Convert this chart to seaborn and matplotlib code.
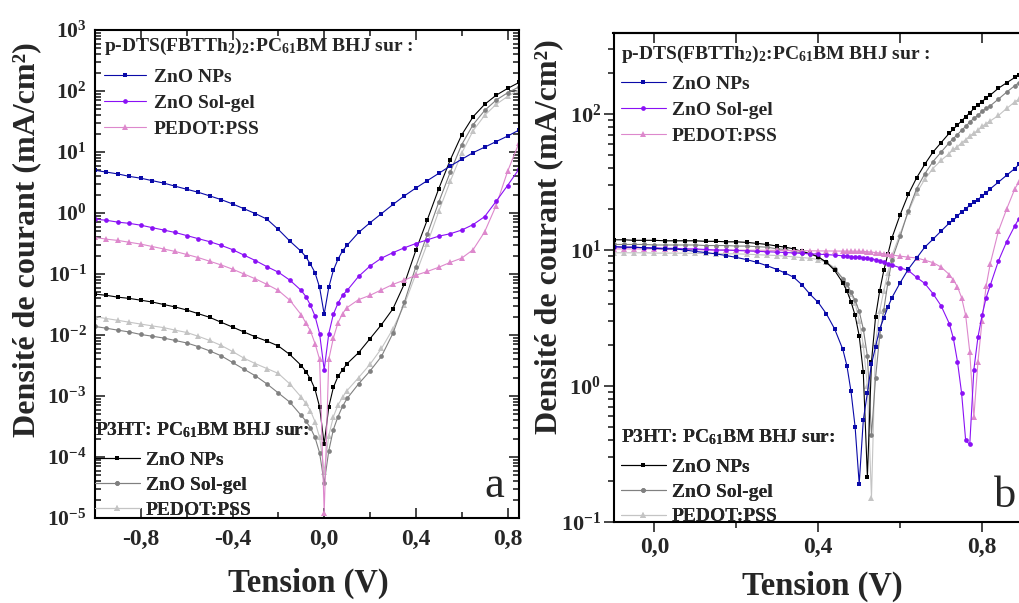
import numpy as np
import matplotlib
matplotlib.use("Agg")
import matplotlib.pyplot as plt
import seaborn as sns
from matplotlib.lines import Line2D
from matplotlib.ticker import MultipleLocator, FuncFormatter, LogLocator, NullFormatter

# ---------------- data: panel a (J in mA/cm2 vs V) ----------------
volt_a = [-1.0, -0.95, -0.9, -0.85, -0.8, -0.75, -0.7, -0.65, -0.6, -0.55, -0.5, -0.45,
          -0.4, -0.35, -0.3, -0.25, -0.2, -0.15, -0.1, -0.08, -0.06, -0.04, -0.02, 0.0,
          0.02, 0.04, 0.06, 0.08, 0.1, 0.15, 0.2, 0.25, 0.3, 0.35, 0.4, 0.45, 0.5, 0.55,
          0.6, 0.65, 0.7, 0.75, 0.8, 0.85]

a_dts_zno_nps = [5.01, 4.68, 4.37, 3.98, 3.72, 3.39, 3.09, 2.75, 2.45, 2.19, 1.91, 1.66,
                 1.41, 1.175, 0.977, 0.794, 0.537, 0.347, 0.234, 0.191, 0.145, 0.105, 0.0603, 0.0219,
                 0.0603, 0.115, 0.174, 0.240, 0.295, 0.479, 0.692, 0.977, 1.38, 1.91, 2.57, 3.39,
                 4.47, 5.89, 7.59, 9.77, 12.0, 14.8, 18.2, 22.9]
a_dts_zno_solgel = [0.794, 0.759, 0.708, 0.676, 0.631, 0.575, 0.525, 0.479, 0.427, 0.380, 0.339, 0.295,
                    0.251, 0.204, 0.166, 0.132, 0.107, 0.0794, 0.0537, 0.0427, 0.0309, 0.0204, 0.0105, 0.00269,
                    0.0105, 0.0219, 0.0331, 0.0447, 0.0537, 0.0912, 0.135, 0.182, 0.224, 0.269, 0.316, 0.363,
                    0.417, 0.457, 0.525, 0.646, 0.871, 1.55, 2.82, 5.25]
a_dts_pedot = [0.398, 0.372, 0.355, 0.331, 0.309, 0.282, 0.257, 0.234, 0.209, 0.186, 0.162, 0.141,
               0.120, 0.100, 0.0832, 0.0676, 0.0537, 0.0372, 0.0214, 0.0158, 0.0117, 0.00724, 0.00398, 1.23e-5,
               0.00398, 0.00891, 0.0158, 0.0224, 0.0282, 0.0380, 0.0447, 0.0550, 0.0676, 0.0794, 0.0955, 0.110,
               0.129, 0.155, 0.182, 0.251, 0.490, 1.32, 4.79, 14.1]
a_p3ht_zno_nps = [0.0468, 0.0447, 0.0417, 0.0398, 0.0372, 0.0347, 0.0316, 0.0288, 0.0257, 0.0224, 0.0195, 0.0162,
                  0.0135, 0.0112, 0.00933, 0.00794, 0.00661, 0.00479, 0.00316, 0.00251, 0.00191, 0.00129, 0.000661, 0.000162,
                  0.000661, 0.00138, 0.00209, 0.00269, 0.00339, 0.00513, 0.00871, 0.0148, 0.0269, 0.0692, 0.245, 0.776,
                  2.51, 7.41, 19.1, 38.0, 60.3, 85.1, 110, 138]
a_p3ht_zno_solgel = [0.0138, 0.0129, 0.0120, 0.0112, 0.0102, 0.00955, 0.00891, 0.00813, 0.00741, 0.00646, 0.00550, 0.00457,
                     0.00355, 0.00275, 0.00214, 0.00158, 0.00112, 0.000794, 0.000479, 0.000389, 0.000302, 0.000209, 0.000117, 3.72e-5,
                     0.000126, 0.000282, 0.000457, 0.000676, 0.000912, 0.00158, 0.00257, 0.00447, 0.0107, 0.0347, 0.132, 0.447,
                     1.51, 4.68, 13.2, 28.2, 47.9, 70.8, 93.3, 117]
a_p3ht_pedot = [0.0200, 0.0186, 0.0174, 0.0162, 0.0151, 0.0141, 0.0132, 0.0120, 0.0110, 0.00955, 0.00813, 0.00676,
                0.00537, 0.00417, 0.00339, 0.00282, 0.00234, 0.00158, 0.000955, 0.000759, 0.000575, 0.000380, 0.000209, 5.75e-5,
                0.000224, 0.000457, 0.000708, 0.000955, 0.00123, 0.00200, 0.00331, 0.00603, 0.0126, 0.0316, 0.100, 0.316,
                1.07, 3.31, 9.55, 22.4, 39.8, 60.3, 81.3, 105]

# ---------------- data: panel b ----------------
volt_b = [-0.1, -0.075, -0.05, -0.025, 0.0, 0.025, 0.05, 0.075, 0.1, 0.125, 0.15, 0.175, 0.2, 0.225, 0.25, 0.275, 0.3,
          0.32, 0.34, 0.36, 0.38, 0.40, 0.42, 0.44, 0.46,
          0.47, 0.48, 0.49, 0.50, 0.51, 0.52, 0.53, 0.54, 0.55, 0.56, 0.57, 0.58,
          0.60, 0.62, 0.64, 0.66, 0.68, 0.70, 0.72,
          0.73, 0.74, 0.75, 0.76, 0.77, 0.78, 0.79, 0.80, 0.81, 0.82,
          0.84, 0.86, 0.88, 0.89]

b_dts_zno_nps = [10.6, 10.5, 10.5, 10.4, 10.3, 10.2, 10.2, 10.0, 9.77, 9.59, 9.38, 9.12, 8.83, 8.51, 8.13, 7.67, 7.19,
                 6.76, 6.31, 5.56, 4.73, 4.12, 3.39, 2.63, 1.86,
                 1.41, 0.912, 0.501, 0.191, 0.562, 0.891, 1.45, 1.95, 2.63, 3.16, 3.80, 4.47,
                 5.75, 7.24, 8.71, 10.5, 12.0, 13.8, 15.8,
                 16.6, 17.8, 19.1, 20.0, 21.4, 22.4, 23.4, 25.1, 26.3, 28.2,
                 31.6, 35.5, 39.8, 42.7]
b_dts_zno_solgel = [10.6, 10.5, 10.5, 10.4, 10.4, 10.3, 10.3, 10.2, 10.2, 10.1, 10.0, 10.0, 9.93, 9.86, 9.79, 9.72, 9.66,
                    9.59, 9.53, 9.46, 9.40, 9.33, 9.26, 9.18, 9.08,
                    9.02, 8.95, 8.89, 8.83, 8.77, 8.71, 8.61, 8.51, 8.32, 8.13, 7.94, 7.76,
                    7.41, 7.08, 6.31, 5.69, 4.79, 3.89, 2.88,
                    2.24, 1.51, 0.891, 0.398, 0.372, 1.32, 2.29, 3.31, 4.47, 5.50,
                    8.32, 11.5, 15.1, 17.0]
b_dts_pedot = [10.2, 10.2, 10.2, 10.2, 10.2, 10.1, 10.1, 10.1, 10.1, 10.0, 10.0, 10.0, 9.99, 9.98, 9.97, 9.96, 9.95,
               9.93, 9.91, 9.89, 9.88, 9.86, 9.85, 9.84, 9.83,
               9.82, 9.82, 9.81, 9.80, 9.77, 9.72, 9.66, 9.59, 9.50, 9.40, 9.30, 9.20,
               9.02, 8.87, 8.75, 8.43, 8.09, 7.50, 6.61,
               6.03, 5.37, 4.47, 3.31, 1.78, 0.589, 1.51, 3.02, 5.44, 7.94,
               13.8, 20.0, 28.2, 31.6]
b_p3ht_zno_nps = [11.9, 11.9, 11.8, 11.8, 11.8, 11.7, 11.7, 11.7, 11.7, 11.6, 11.6, 11.5, 11.5, 11.4, 11.2, 11.0, 10.7,
                  10.5, 10.2, 9.77, 9.44, 8.91, 8.13, 7.08, 5.75,
                  5.01, 4.17, 3.31, 2.34, 1.26, 0.214, 1.51, 3.24, 5.01, 7.08, 9.33, 12.3,
                  18.2, 25.7, 33.9, 42.7, 52.5, 61.7, 72.4,
                  77.6, 83.2, 89.1, 95.5, 102, 110, 117, 123, 132, 138,
                  155, 170, 186, 195]
b_p3ht_zno_solgel = [11.0, 11.0, 11.0, 11.0, 10.9, 10.9, 10.9, 10.9, 10.9, 10.8, 10.8, 10.8, 10.7, 10.7, 10.6, 10.5, 10.2,
                     10.1, 9.77, 9.55, 9.33, 8.91, 8.13, 7.24, 6.17,
                     5.62, 4.90, 4.27, 3.55, 2.63, 1.66, 0.437, 1.15, 2.34, 3.63, 5.75, 8.51,
                     12.6, 19.5, 28.2, 36.3, 44.7, 52.5, 61.7,
                     66.1, 70.8, 75.9, 81.3, 87.1, 93.3, 97.7, 105, 110, 115,
                     129, 145, 162, 170]
b_p3ht_pedot = [9.55, 9.55, 9.55, 9.55, 9.50, 9.50, 9.50, 9.50, 9.46, 9.44, 9.42, 9.40, 9.38, 9.33, 9.25, 9.18, 9.12,
                9.02, 8.91, 8.81, 8.71, 8.51, 8.13, 7.41, 6.17,
                5.50, 4.79, 4.07, 3.02, 2.00, 1.00, 0.151, 2.09, 3.55, 5.01, 6.76, 9.12,
                13.2, 19.1, 26.3, 33.1, 39.8, 45.7, 51.3,
                55.0, 57.5, 61.7, 64.6, 69.2, 72.4, 75.9, 81.3, 85.1, 89.1,
                97.7, 110, 123, 129]

labels_dts = ["ZnO NPs", "ZnO Sol-gel", "PEDOT:PSS"]
labels_p3ht = ["ZnO NPs", "ZnO Sol-gel", "PEDOT:PSS"]
title_dts = r"p-DTS(FBTTh$_2$)$_2$:PC$_{61}$BM BHJ sur :"
title_p3ht = r"P3HT: PC$_{61}$BM BHJ sur:"

# ---------------- style ----------------
sns.set_style("ticks")
plt.rcParams.update({
    "font.family": ["Liberation Serif", "DejaVu Serif"],
    "font.weight": "bold",
    "mathtext.fontset": "custom",
    "mathtext.rm": "Liberation Serif:bold",
    "mathtext.it": "Liberation Serif:bold",
    "mathtext.bf": "Liberation Serif:bold",
    "mathtext.sf": "Liberation Serif:bold",
    "mathtext.default": "rm",
    "axes.linewidth": 1.5,
    "axes.edgecolor": "black",
})

C_BLUE, C_PURPLE, C_PINK = "#0a0aa8", "#8a10f5", "#dd88cc"
C_BLACK, C_GRAY, C_LGRAY = "#000000", "#808080", "#c4c4c4"
style_dts = [(C_BLUE, "s", 3.0), (C_PURPLE, "o", 3.4), (C_PINK, "^", 3.8)]
style_p3ht = [(C_BLACK, "s", 3.0), (C_GRAY, "o", 3.4), (C_LGRAY, "^", 3.8)]

fig = plt.figure(figsize=(10.19, 6.03), dpi=100)
W, H = 1019.0, 603.0
ax_a = fig.add_axes([95 / W, (H - 518) / H, 424 / W, 488 / H])
ax_b = fig.add_axes([613.5 / W, (H - 522) / H, 409.5 / W, 489 / H])


def draw(ax, x, y, st):
    c, m, ms = st
    sns.lineplot(x=x, y=y, ax=ax, color=c, marker=m, markersize=ms,
                 markeredgewidth=0, linewidth=0.8, estimator=None, sort=False,
                 legend=False)


for y, st in zip([a_p3ht_pedot, a_p3ht_zno_solgel, a_p3ht_zno_nps], style_p3ht[::-1]):
    draw(ax_a, volt_a, y, st)
for y, st in zip([a_dts_pedot, a_dts_zno_solgel, a_dts_zno_nps], style_dts[::-1]):
    draw(ax_a, volt_a, y, st)
for y, st in zip([b_p3ht_pedot, b_p3ht_zno_solgel, b_p3ht_zno_nps], style_p3ht[::-1]):
    draw(ax_b, volt_b, y, st)
for y, st in zip([b_dts_pedot, b_dts_zno_solgel, b_dts_zno_nps], style_dts[::-1]):
    draw(ax_b, volt_b, y, st)


def comma_fmt(x, pos):
    s = f"{x:.1f}".replace(".", ",")
    return "0,0" if s == "-0,0" else s


def pow_fmt(y, pos):
    e = int(round(np.log10(y)))
    return r"$\mathbf{10^{%d}}$" % e


for ax in (ax_a, ax_b):
    ax.set_yscale("log")
    ax.xaxis.set_major_locator(MultipleLocator(0.4))
    ax.xaxis.set_minor_locator(MultipleLocator(0.2))
    ax.xaxis.set_major_formatter(FuncFormatter(comma_fmt))
    ax.yaxis.set_major_locator(LogLocator(base=10, numticks=20))
    ax.yaxis.set_minor_locator(LogLocator(base=10, subs=np.arange(2, 10), numticks=20))
    ax.yaxis.set_major_formatter(FuncFormatter(pow_fmt))
    ax.yaxis.set_minor_formatter(NullFormatter())
    ax.set_xlabel("Tension (V)", fontsize=23.5, fontweight="bold")
    ax.set_ylabel("Densité de courant (mA/cm²)", fontsize=23, fontweight="bold")
    for sp in ax.spines.values():
        sp.set_linewidth(1.5)
        sp.set_visible(True)

ax_a.set_xlim(-1.0, 0.85)
ax_a.set_ylim(1e-5, 1e3)
ax_b.set_xlim(-0.1, 0.9)
ax_b.set_ylim(0.1, 395)

ax_a.tick_params(which="both", direction="in", top=True, right=True, width=1.2, labelsize=17, pad=8)
ax_a.tick_params(axis="y", which="major", labelsize=15.5, pad=6)
ax_a.tick_params(which="major", length=7)
ax_a.tick_params(which="minor", length=4)
ax_b.tick_params(which="both", direction="out", width=1.2, labelsize=17, pad=4)
ax_b.tick_params(which="major", length=7)
ax_b.tick_params(which="minor", length=4)
ax_b.tick_params(axis="y", which="major", labelsize=16, pad=2)
sec = ax_b.secondary_xaxis("top")
sec.xaxis.set_major_locator(MultipleLocator(0.2))
sec.tick_params(direction="in", length=7, width=1.2, labeltop=False)

ax_a.xaxis.set_label_coords(0.502, -0.133)
ax_a.yaxis.set_label_coords(-0.160, 0.57)
ax_b.xaxis.set_label_coords(0.509, -0.132)
ax_b.yaxis.set_label_coords(-0.158, 0.583)
for ax in (ax_a, ax_b):
    ax.xaxis.label.set_va("center")
    ax.yaxis.label.set_va("center")


def make_legend(ax, labels, styles, title, x_px, y_px, hl, htp, ls, sep):
    handles = [Line2D([], [], color=c, marker=m, markersize=ms, markeredgewidth=0, linewidth=0.8)
               for c, m, ms in styles]
    leg = ax.legend(handles, labels, title=title, loc="upper left",
                    bbox_to_anchor=(x_px / W, 1 - y_px / H), bbox_transform=fig.transFigure,
                    frameon=False, prop={"family": "Liberation Serif", "weight": "bold", "size": 14},
                    title_fontproperties={"family": "Liberation Serif", "weight": "bold", "size": 14},
                    handlelength=hl, handletextpad=htp, labelspacing=ls, borderpad=0,
                    borderaxespad=0, alignment="left")
    leg._legend_box.sep = sep
    ax.add_artist(leg)
    return leg


make_legend(ax_a, labels_dts, style_dts, title_dts, 104, 36, 2.15, 0.4, 0.43, 8.2)
make_legend(ax_a, labels_p3ht, style_p3ht, title_p3ht, 95, 420, 2.3, 0.3, 0.38, 8.6)
make_legend(ax_b, labels_dts, style_dts, title_dts, 621, 44, 2.3, 0.3, 0.42, 7.6)
make_legend(ax_b, labels_p3ht, style_p3ht, title_p3ht, 621, 427, 2.3, 0.3, 0.36, 8.6)

fig.text(494 / W, 1 - 497 / H, "a", fontsize=32, fontweight="normal", ha="center", va="baseline")
fig.text(1005 / W, 1 - 507 / H, "b", fontsize=32, fontweight="normal", ha="center", va="baseline")

fig.savefig("out.png", dpi=100)
